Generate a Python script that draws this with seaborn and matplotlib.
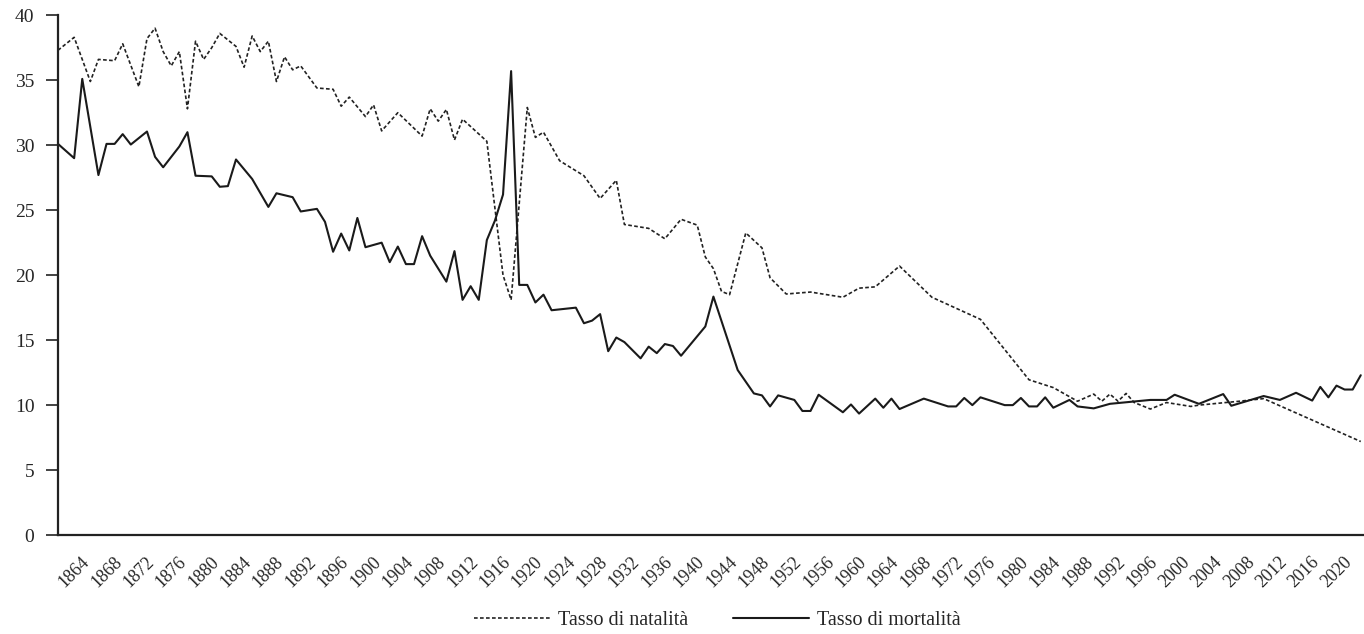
import matplotlib
matplotlib.use("Agg")
import matplotlib.pyplot as plt
import seaborn as sns
import pandas as pd

# ---- data (per 1000 inhabitants) ----
birth_years = [1862, 1864, 1866, 1867, 1869, 1870, 1872, 1873, 1874, 1875, 1876, 1877,
               1878, 1879, 1880, 1881, 1882, 1884, 1885, 1886, 1887, 1888, 1889, 1890,
               1891, 1892, 1894, 1896, 1897, 1898, 1900, 1901, 1902, 1904, 1907, 1908,
               1909, 1910, 1911, 1912, 1915, 1917, 1918, 1920, 1921, 1922, 1924, 1927,
               1929, 1931, 1932, 1935, 1937, 1939, 1941, 1942, 1943, 1944, 1945, 1947,
               1949, 1950, 1952, 1955, 1959, 1961, 1963, 1966, 1968, 1970, 1976, 1982,
               1985, 1988, 1990, 1991, 1992, 1993, 1994, 1995, 1997, 1999, 2002, 2003,
               2008, 2011, 2023]
birth_rate = [37.3, 38.3, 34.9, 36.6, 36.5, 37.8, 34.5, 38.2, 39.0, 37.2, 36.1, 37.2,
              32.8, 38.0, 36.6, 37.5, 38.6, 37.6, 36.0, 38.4, 37.2, 38.0, 34.9, 36.8,
              35.8, 36.1, 34.4, 34.3, 33.0, 33.7, 32.2, 33.1, 31.1, 32.5, 30.7, 32.8,
              31.85, 32.75, 30.4, 32.0, 30.3, 20.0, 18.1, 32.9, 30.6, 31.0, 28.8, 27.65,
              25.9, 27.3, 23.9, 23.6, 22.8, 24.3, 23.85, 21.4, 20.5, 18.75, 18.5, 23.25,
              22.1, 19.8, 18.55, 18.7, 18.3, 19.0, 19.1, 20.7, 19.5, 18.3, 16.6, 11.95,
              11.35, 10.3, 10.85, 10.3, 10.85, 10.3, 10.9, 10.2, 9.7, 10.2, 9.9, 10.0,
              10.3, 10.5, 7.2]

death_years = [1862, 1864, 1865, 1867, 1868, 1869, 1870, 1871, 1873, 1874, 1875, 1877,
               1878, 1879, 1881, 1882, 1883, 1884, 1886, 1888, 1889, 1891, 1892, 1894,
               1895, 1896, 1897, 1898, 1899, 1900, 1902, 1903, 1904, 1905, 1906, 1907,
               1908, 1910, 1911, 1912, 1913, 1914, 1915, 1916, 1917, 1918, 1919, 1920,
               1921, 1922, 1923, 1926, 1927, 1928, 1929, 1930, 1931, 1932, 1934, 1935,
               1936, 1937, 1938, 1939, 1942, 1943, 1946, 1948, 1949, 1950, 1951, 1953,
               1954, 1955, 1956, 1959, 1960, 1961, 1963, 1964, 1965, 1966, 1969, 1971,
               1972, 1973, 1974, 1975, 1976, 1979, 1980, 1981, 1982, 1983, 1984, 1985,
               1987, 1988, 1990, 1992, 1997, 1999, 2000, 2003, 2006, 2007, 2011, 2013,
               2015, 2017, 2018, 2019, 2020, 2021, 2022, 2023]
death_rate = [30.1, 29.0, 35.1, 27.7, 30.1, 30.1, 30.85, 30.05, 31.05, 29.1, 28.3, 29.9,
              31.0, 27.65, 27.6, 26.8, 26.85, 28.9, 27.4, 25.25, 26.3, 26.0, 24.9, 25.1,
              24.1, 21.8, 23.2, 21.9, 24.4, 22.15, 22.5, 21.0, 22.2, 20.85, 20.85, 23.0,
              21.5, 19.5, 21.85, 18.1, 19.15, 18.1, 22.7, 24.2, 26.2, 35.7, 19.25, 19.25,
              17.9, 18.5, 17.3, 17.5, 16.3, 16.5, 17.0, 14.15, 15.2, 14.85, 13.6, 14.5,
              14.0, 14.7, 14.55, 13.8, 16.05, 18.35, 12.7, 10.9, 10.75, 9.9, 10.75, 10.4,
              9.55, 9.55, 10.8, 9.45, 10.05, 9.35, 10.5, 9.8, 10.5, 9.7, 10.5, 10.1,
              9.9, 9.9, 10.55, 10.0, 10.6, 10.0, 10.0, 10.55, 9.9, 9.9, 10.6, 9.8,
              10.4, 9.9, 9.75, 10.1, 10.4, 10.4, 10.8, 10.1, 10.85, 9.95, 10.7, 10.4,
              10.95, 10.35, 11.4, 10.6, 11.5, 11.2, 11.2, 12.3]

x_tick_years = list(range(1864, 2021, 4))
y_ticks = [0, 5, 10, 15, 20, 25, 30, 35, 40]
label_birth = "Tasso di natalità"
label_death = "Tasso di mortalità"

df_birth = pd.DataFrame({"anno": birth_years, "tasso": birth_rate})
df_death = pd.DataFrame({"anno": death_years, "tasso": death_rate})

sns.set_theme(style="white")
plt.rcParams["font.family"] = ["Liberation Serif", "DejaVu Serif"]

fig = plt.figure(figsize=(13.64, 6.34), dpi=100)
ax = fig.add_axes([0.0425, 0.156, 0.9575, 0.82])

sns.lineplot(data=df_birth, x="anno", y="tasso", ax=ax, color="#222222",
             linewidth=1.2, label=label_birth)
sns.lineplot(data=df_death, x="anno", y="tasso", ax=ax, color="#1a1a1a",
             linewidth=1.5, label=label_death)
ax.lines[0].set_dashes([2.2, 1.4])

ax.set_xlim(1862, 2023.4)
ax.set_ylim(0, 40)
ax.set_xticks(x_tick_years)
ax.set_xticklabels([str(y) for y in x_tick_years], rotation=45, ha="center",
                   fontsize=13)
ax.set_yticks(y_ticks)
ax.set_yticklabels([str(v) for v in y_ticks], fontsize=14)
ax.tick_params(axis="x", length=0, pad=13)
ax.tick_params(axis="y", length=9, width=1.2, color="#222222", pad=8, left=True)
ax.set_xlabel("")
ax.set_ylabel("")
for side in ["top", "right"]:
    ax.spines[side].set_visible(False)
for side in ["left", "bottom"]:
    ax.spines[side].set_color("#222222")
    ax.spines[side].set_linewidth(1.6)

handles, labels = ax.get_legend_handles_labels()
ax.get_legend().remove()
fig.legend(handles, labels, loc="center", bbox_to_anchor=(0.526, 0.022), ncol=2,
           frameon=False, fontsize=14.5, handlelength=3.8, columnspacing=2.2,
           handletextpad=0.4)

fig.savefig("out.png", dpi=100, facecolor="white")
